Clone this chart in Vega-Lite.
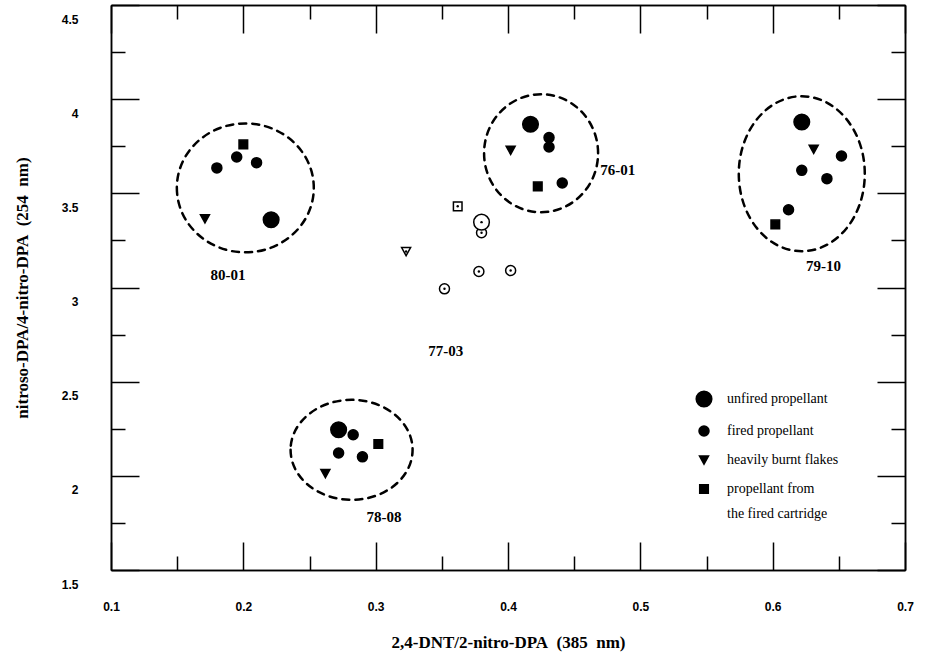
{
  "$schema": "https://vega.github.io/schema/vega-lite/v6.json",
  "width": 794,
  "height": 565,
  "autosize": {"type": "none"},
  "padding": {"left": 111, "top": 5, "right": 25, "bottom": 91},
  "background": "white",
  "config": {
    "view": {"stroke": null},
    "style": {"guide-label": {"lineHeight": 25}},
    "axis": {
      "grid": false,
      "domainColor": "black",
      "domainWidth": 1.5,
      "tickColor": "black",
      "tickWidth": 1.5,
      "labelFont": "Liberation Sans",
      "labelFontSize": 12,
      "labelFontWeight": "bold",
      "labelColor": "black",
      "titleFont": "Liberation Serif",
      "titleFontSize": 17,
      "titleFontWeight": "bold",
      "titleColor": "black"
    }
  },
  "datasets": {
    "ellipses": [
      {"cluster": "80-01", "x": 0.2015, "y": 3.529},
      {"cluster": "76-01", "x": 0.425, "y": 3.713},
      {"cluster": "79-10", "x": 0.622, "y": 3.604},
      {"cluster": "78-08", "x": 0.2818, "y": 2.138}
    ],
    "labels": [
      {"label": "80-01", "x": 0.1884, "y": 3.064},
      {"label": "76-01", "x": 0.483, "y": 3.622},
      {"label": "79-10", "x": 0.6384, "y": 3.113},
      {"label": "78-08", "x": 0.3063, "y": 1.784},
      {"label": "77-03", "x": 0.353, "y": 2.665}
    ],
    "points": [
      {"cluster": "80-01", "type": "propellant from the fired cartridge", "style": "filled", "x": 0.2, "y": 3.76},
      {"cluster": "80-01", "type": "fired propellant", "style": "filled", "x": 0.195, "y": 3.693},
      {"cluster": "80-01", "type": "fired propellant", "style": "filled", "x": 0.21, "y": 3.663},
      {"cluster": "80-01", "type": "fired propellant", "style": "filled", "x": 0.18, "y": 3.635},
      {"cluster": "80-01", "type": "heavily burnt flakes", "style": "filled", "x": 0.171, "y": 3.365},
      {"cluster": "80-01", "type": "unfired propellant", "style": "filled", "x": 0.221, "y": 3.36},
      {"cluster": "76-01", "type": "unfired propellant", "style": "filled", "x": 0.417, "y": 3.867},
      {"cluster": "76-01", "type": "fired propellant", "style": "filled", "x": 0.431, "y": 3.796},
      {"cluster": "76-01", "type": "fired propellant", "style": "filled", "x": 0.431, "y": 3.746},
      {"cluster": "76-01", "type": "heavily burnt flakes", "style": "filled", "x": 0.402, "y": 3.729},
      {"cluster": "76-01", "type": "propellant from the fired cartridge", "style": "filled", "x": 0.4225, "y": 3.537},
      {"cluster": "76-01", "type": "fired propellant", "style": "filled", "x": 0.441, "y": 3.555},
      {"cluster": "79-10", "type": "unfired propellant", "style": "filled", "x": 0.622, "y": 3.879},
      {"cluster": "79-10", "type": "heavily burnt flakes", "style": "filled", "x": 0.631, "y": 3.734},
      {"cluster": "79-10", "type": "fired propellant", "style": "filled", "x": 0.652, "y": 3.698},
      {"cluster": "79-10", "type": "fired propellant", "style": "filled", "x": 0.622, "y": 3.622},
      {"cluster": "79-10", "type": "fired propellant", "style": "filled", "x": 0.641, "y": 3.578},
      {"cluster": "79-10", "type": "fired propellant", "style": "filled", "x": 0.612, "y": 3.413},
      {"cluster": "79-10", "type": "propellant from the fired cartridge", "style": "filled", "x": 0.602, "y": 3.335},
      {"cluster": "78-08", "type": "unfired propellant", "style": "filled", "x": 0.272, "y": 2.245},
      {"cluster": "78-08", "type": "fired propellant", "style": "filled", "x": 0.283, "y": 2.218},
      {"cluster": "78-08", "type": "propellant from the fired cartridge", "style": "filled", "x": 0.302, "y": 2.169},
      {"cluster": "78-08", "type": "fired propellant", "style": "filled", "x": 0.272, "y": 2.121},
      {"cluster": "78-08", "type": "fired propellant", "style": "filled", "x": 0.29, "y": 2.101},
      {"cluster": "78-08", "type": "heavily burnt flakes", "style": "filled", "x": 0.262, "y": 2.012},
      {"cluster": "77-03", "type": "propellant from the fired cartridge", "style": "open", "x": 0.362, "y": 3.431},
      {"cluster": "77-03", "type": "fired propellant", "style": "open", "x": 0.38, "y": 3.291},
      {"cluster": "77-03", "type": "unfired propellant", "style": "open", "x": 0.38, "y": 3.347},
      {"cluster": "77-03", "type": "heavily burnt flakes", "style": "open", "x": 0.323, "y": 3.191},
      {"cluster": "77-03", "type": "fired propellant", "style": "open", "x": 0.378, "y": 3.085},
      {"cluster": "77-03", "type": "fired propellant", "style": "open", "x": 0.402, "y": 3.09},
      {"cluster": "77-03", "type": "fired propellant", "style": "open", "x": 0.352, "y": 2.993}
    ]
  },
  "layer": [
    {
      "data": {"name": "ellipses"},
      "mark": {"type": "point", "filled": false, "stroke": "black", "strokeWidth": 2.5, "strokeDash": [7, 6], "strokeCap": "round", "size": 25600, "opacity": 1},
      "encoding": {
        "x": {"field": "x", "type": "quantitative", "scale": {"domain": [0.1, 0.7], "nice": false, "zero": false},
          "axis": {"orient": "bottom", "values": [0.1, 0.2, 0.3, 0.4, 0.5, 0.6, 0.7], "format": "~g", "tickSize": -28, "labelPadding": 59, "title": "2,4-DNT/2-nitro-DPA\u00a0\u00a0(385\u00a0\u00a0nm)", "titlePadding": 22, "labelFlush": false}},
        "y": {"field": "y", "type": "quantitative", "scale": {"domain": [1.5, 4.5], "nice": false, "zero": false},
          "axis": {"orient": "left", "values": [1.5, 2, 2.5, 3, 3.5, 4, 4.5], "format": "~g", "tickSize": -28, "labelPadding": 61, "labelOffset": 14, "labelFlush": false, "title": "nitroso-DPA/4-nitro-DPA\u00a0\u00a0(254\u00a0\u00a0nm)", "titlePadding": 30}},
        "shape": {"field": "cluster", "type": "nominal", "legend": null,
          "scale": {"domain": ["80-01", "76-01", "79-10", "78-08"],
            "range": [
              "M-0.856,0A0.856,0.806,0,1,0,0.856,0A0.856,0.806,0,1,0,-0.856,0Z",
              "M-0.7125,0A0.7125,0.7375,0,1,0,0.7125,0A0.7125,0.7375,0,1,0,-0.7125,0Z",
              "M-0.7875,0A0.7875,0.969,0,1,0,0.7875,0A0.7875,0.969,0,1,0,-0.7875,0Z",
              "M-0.7625,0A0.7625,0.625,0,1,0,0.7625,0A0.7625,0.625,0,1,0,-0.7625,0Z"
            ]}}
      }
    },
    {
      "data": {"name": "points"},
      "mark": {"type": "point", "filled": true, "stroke": "black", "strokeWidth": 1.5, "size": 400, "opacity": 1},
      "encoding": {
        "x": {"field": "x", "type": "quantitative", "scale": {"domain": [0.1, 0.7], "nice": false, "zero": false},
          "axis": {"orient": "top", "values": [0.1, 0.2, 0.3, 0.4, 0.5, 0.6, 0.7], "tickSize": -28, "labels": false, "title": null}},
        "y": {"field": "y", "type": "quantitative", "scale": {"domain": [1.5, 4.5], "nice": false, "zero": false},
          "axis": {"orient": "right", "values": [1.5, 2, 2.5, 3, 3.5, 4, 4.5], "tickSize": -28, "labels": false, "title": null}},
        "shape": {"field": "type", "type": "nominal",
          "scale": {"domain": ["unfired propellant", "fired propellant", "heavily burnt flakes", "propellant from the fired cartridge"],
            "range": [
              "M-0.78,0A0.78,0.78,0,1,0,0.78,0A0.78,0.78,0,1,0,-0.78,0Z",
              "M-0.5,0A0.5,0.5,0,1,0,0.5,0A0.5,0.5,0,1,0,-0.5,0Z",
              "M-0.45,-0.4L0.45,-0.4L0,0.42Z",
              "M-0.43,-0.43L0.43,-0.43L0.43,0.43L-0.43,0.43Z"
            ]},
          "legend": {
            "orient": "none", "legendX": 582, "legendY": 383, "title": null,
            "symbolSize": 400, "symbolStrokeWidth": 1.5, "symbolFillColor": "black", "symbolStrokeColor": "black",
            "labelFont": "Liberation Serif", "labelFontSize": 14, "labelColor": "black", "labelOffset": 12, "labelLimit": 300,
            "rowPadding": 10,
            "labelExpr": "datum.label == 'propellant from the fired cartridge' ? ['propellant from', 'the fired cartridge'] : datum.label"
          }},
        "fill": {"field": "style", "type": "nominal", "legend": null,
          "scale": {"domain": ["filled", "open"], "range": ["black", "white"]}}
      }
    },
    {
      "data": {"name": "points"},
      "transform": [{"filter": "datum.style == 'open'"}],
      "mark": {"type": "point", "filled": true, "color": "black", "size": 6, "opacity": 1},
      "encoding": {
        "x": {"field": "x", "type": "quantitative", "scale": {"domain": [0.1, 0.7], "nice": false, "zero": false},
          "axis": {"orient": "bottom", "values": [0.15, 0.25, 0.35, 0.45, 0.55, 0.65], "tickSize": -14, "labels": false, "title": null}},
        "y": {"field": "y", "type": "quantitative", "scale": {"domain": [1.5, 4.5], "nice": false, "zero": false},
          "axis": {"orient": "left", "values": [1.75, 2.25, 2.75, 3.25, 3.75, 4.25], "tickSize": -14, "labels": false, "title": null}}
      }
    },
    {
      "data": {"name": "labels"},
      "mark": {"type": "text", "font": "Liberation Serif", "fontSize": 15, "fontWeight": "bold", "color": "black", "align": "center", "baseline": "middle"},
      "encoding": {
        "x": {"field": "x", "type": "quantitative", "scale": {"domain": [0.1, 0.7], "nice": false, "zero": false},
          "axis": {"orient": "top", "values": [0.15, 0.25, 0.35, 0.45, 0.55, 0.65], "tickSize": -14, "labels": false, "title": null}},
        "y": {"field": "y", "type": "quantitative", "scale": {"domain": [1.5, 4.5], "nice": false, "zero": false},
          "axis": {"orient": "right", "values": [1.75, 2.25, 2.75, 3.25, 3.75, 4.25], "tickSize": -14, "labels": false, "title": null}},
        "text": {"field": "label", "type": "nominal"}
      }
    }
  ],
  "resolve": {
    "axis": {"x": "independent", "y": "independent"},
    "scale": {"shape": "independent"}
  }
}
